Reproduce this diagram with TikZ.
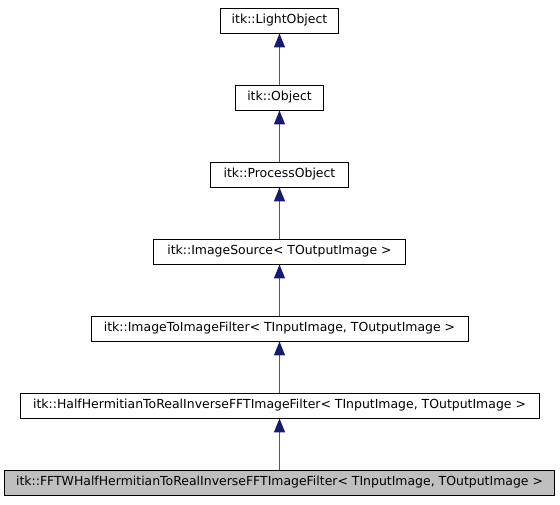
\documentclass[tikz,border=0pt]{standalone}
\usepackage{fontspec}
\setmainfont{DejaVu Sans}
\usetikzlibrary{arrows.meta}
\definecolor{edgeblue}{RGB}{25,25,112}
\definecolor{edgeline}{RGB}{80,80,158}
\definecolor{boxgray}{RGB}{191,191,191}
\tikzset{
  cls/.style={draw=black, line width=0.9pt, fill=white, minimum height=25pt, inner sep=0pt,
    font=\fontsize{12.45}{14}\selectfont, anchor=center},
  cur/.style={cls, fill=boxgray},
  inh/.style={draw=edgeline, line width=1.3pt,
    -{Triangle[width=11pt,length=14pt,color=edgeblue]}}
}
\begin{document}
\begin{tikzpicture}[x=1pt,y=1pt]
\useasboundingbox (0,0) rectangle (560,-504);
\node[cls, minimum width=118pt] (lo) at (279.5,-20.5) {itk::LightObject};
\node[cls, minimum width=88pt] (ob) at (279.5,-97.5) {itk::Object};
\node[cls, minimum width=138pt] (po) at (279.5,-174.5) {itk::ProcessObject};
\node[cls, minimum width=252pt] (is) at (279.5,-251.5) {itk::ImageSource< TOutputImage >};
\node[cls, minimum width=377pt] (iti) at (279.5,-328.5) {itk::ImageToImageFilter< TInputImage, TOutputImage >};
\node[cls, minimum width=519pt] (hh) at (279.5,-405.5) {itk::HalfHermitianToRealInverseFFTImageFilter< TInputImage, TOutputImage >};
\node[cur, minimum width=550pt] (fftw) at (279.5,-482.5) {itk::FFTWHalfHermitianToRealInverseFFTImageFilter< TInputImage, TOutputImage >};
\draw[inh] (ob.north) -- (lo.south);
\draw[inh] (po.north) -- (ob.south);
\draw[inh] (is.north) -- (po.south);
\draw[inh] (iti.north) -- (is.south);
\draw[inh] (hh.north) -- (iti.south);
\draw[inh] (fftw.north) -- (hh.south);
\end{tikzpicture}
\end{document}
